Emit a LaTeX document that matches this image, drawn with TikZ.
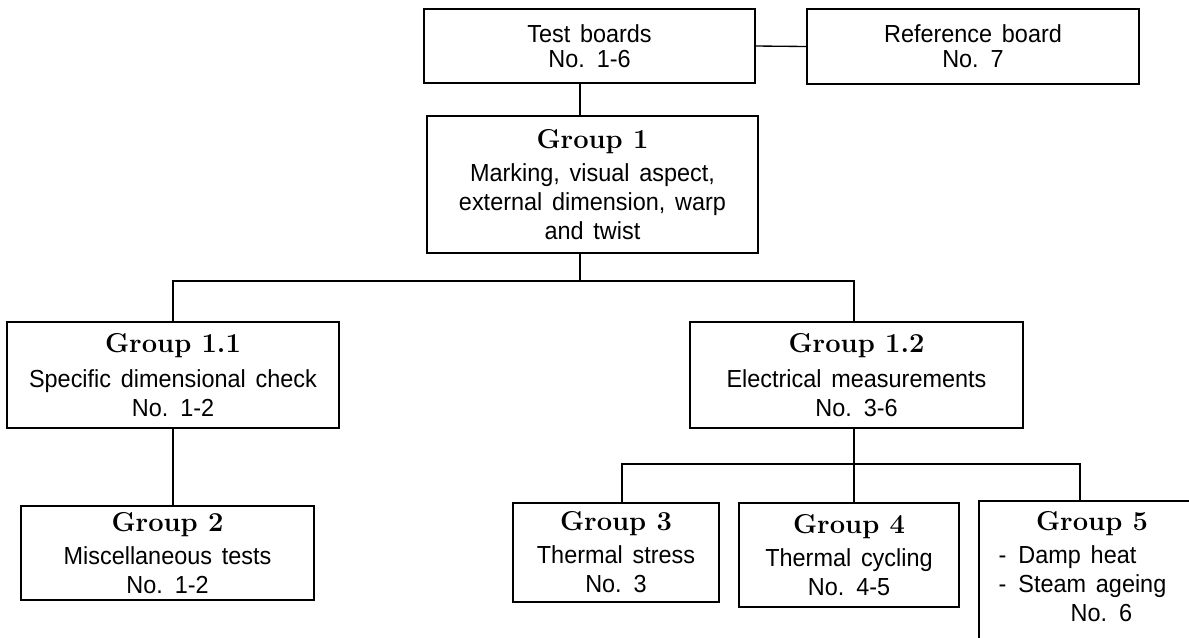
\documentclass[tikz,border=0pt]{standalone}
\usepackage{fontspec}
\newfontfamily\sansf[WordSpace=1.5,FakeStretch=0.95]{Liberation Sans}
\newcommand{\grp}[1]{{\rmfamily\bfseries\fontsize{20.5}{21.75}\selectfont #1}}
\begin{document}
\begin{tikzpicture}[x=0.75pt,y=-0.75pt,
  box/.style={draw, line width=0.85pt, inner sep=0pt, align=center,
    font=\sansf\fontsize{18.5}{21.75}\selectfont},
  topbox/.style={box, font=\sansf\fontsize{18.5}{18.75}\selectfont},
  wire/.style={line width=1pt}]
\useasboundingbox (0,0) rectangle (1189,637);
\clip (0,0) rectangle (1189,637);
% nodes
\node[topbox, minimum width=331*0.75pt, minimum height=74*0.75pt] (tb) at (589.5,46) {Test boards\\No. 1-6};
\node[topbox, minimum width=332*0.75pt, minimum height=75*0.75pt] (ref) at (973,46.5) {Reference board\\No. 7};
\node[box, minimum width=331*0.75pt, minimum height=137*0.75pt] (g1) at (592.5,184.5)
  {\grp{Group 1}\\[3pt]Marking, visual aspect,\\external dimension, warp\\and twist};
\node[box, minimum width=332*0.75pt, minimum height=106*0.75pt] (g11) at (173,375)
  {\grp{Group 1.1}\\[4pt]Specific dimensional check\\No. 1-2};
\node[box, minimum width=333*0.75pt, minimum height=106*0.75pt] (g12) at (856.5,375)
  {\grp{Group 1.2}\\[4pt]Electrical measurements\\No. 3-6};
\node[box, minimum width=293*0.75pt, minimum height=94*0.75pt] (g2) at (167.5,553)
  {\grp{Group 2}\\[3pt]Miscellaneous tests\\No. 1-2};
\node[box, minimum width=206*0.75pt, minimum height=99*0.75pt] (g3) at (616,552.5)
  {\grp{Group 3}\\[3pt]Thermal stress\\No. 3};
\node[box, minimum width=220*0.75pt, minimum height=104*0.75pt] (g4) at (849,555)
  {\grp{Group 4}\\[3pt]Thermal cycling\\No. 4-5};
\node[box, minimum width=226*0.75pt, minimum height=159*0.75pt] (g5) at (1092,580.5) {};
\node[box, draw=none, anchor=north] (g5t) at (1092,511)
  {\grp{Group 5}\\[3pt]\hspace*{-16pt}\makebox[124pt][l]{-\hspace{9pt}Damp heat}\\
   \hspace*{-16pt}\makebox[124pt][l]{-\hspace{9pt}Steam ageing}\\\hspace*{14pt}No. 6};
% coordinates for connector routes
\coordinate (xa) at (580,281);
\coordinate (xl) at (173,281);
\coordinate (xr) at (854,281);
\coordinate (ya) at (854,464);
\coordinate (x3) at (622,464);
\coordinate (x5) at (1080,464);
% connectors
\draw[wire] (tb.east) -- (ref.west);
\draw[wire] (tb.south -| xa) -- (g1.north -| xa);
\draw[wire] (g1.south -| xa) -- (xa);
\draw[wire] (g11.north -| xl) -- (xl) -- (xr) -- (g12.north -| xr);
\draw[wire] (g11.south -| xl) -- (g2.north -| xl);
\draw[wire] (g12.south -| ya) -- (ya);
\draw[wire] (g3.north -| x3) -- (x3) -- (x5) -- (g5.north -| x5);
\draw[wire] (ya) -- (g4.north -| ya);
\end{tikzpicture}
\end{document}
